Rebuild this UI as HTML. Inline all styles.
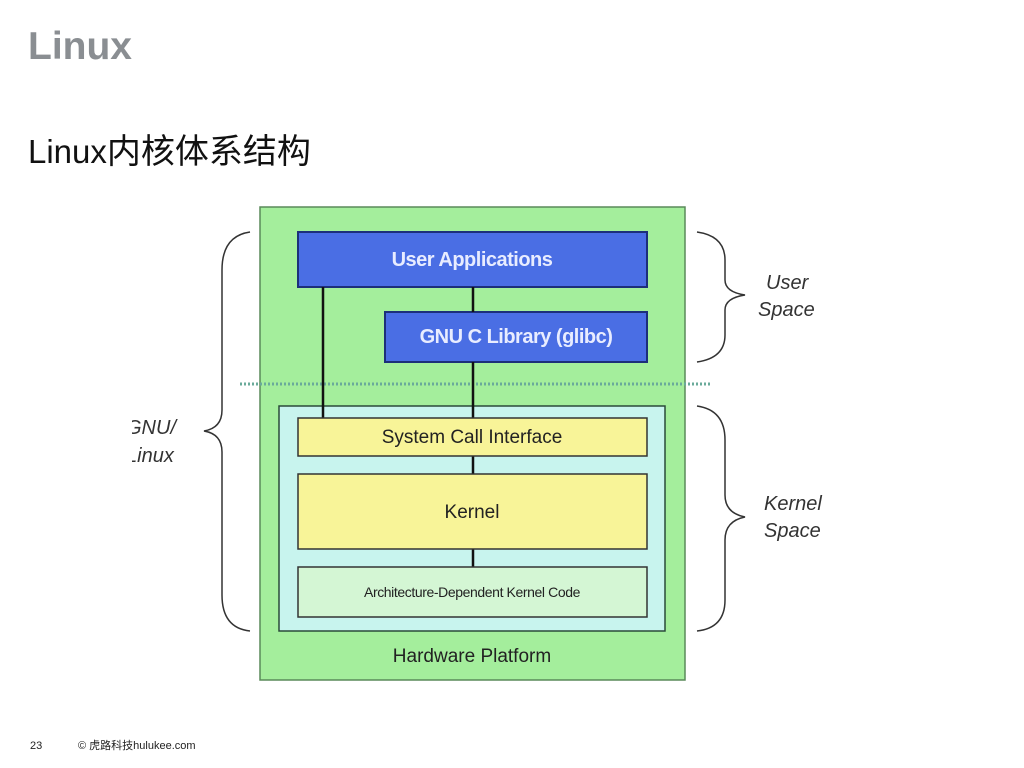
<!DOCTYPE html>
<html><head><meta charset="utf-8"><style>
html,body{margin:0;padding:0;background:#fff;}
body{width:1024px;height:768px;overflow:hidden;position:relative;font-family:"Liberation Sans","Noto Sans CJK SC",sans-serif;}
</style></head><body>
<svg width="1024" height="768" xmlns="http://www.w3.org/2000/svg" style="position:absolute;left:0;top:0">
<text x="28" y="59" font-family="Liberation Sans, sans-serif" font-weight="bold" font-size="39" fill="#8a8e92">Linux</text>
<text x="28" y="163" font-family="Liberation Sans, Noto Sans CJK SC, sans-serif" font-size="33" fill="#111">Linux<tspan font-size="34">内核体系结构</tspan></text>
<text x="30" y="749" font-family="Liberation Sans, sans-serif" font-size="11" fill="#222">23</text>
<text x="78" y="749" font-family="Liberation Sans, Noto Sans CJK SC, sans-serif" font-size="11" fill="#222">© 虎路科技hulukee.com</text>

<rect x="260" y="207" width="425" height="473" fill="#a4ee9c" stroke="#5a8a5a" stroke-width="1.5"/>
<rect x="298" y="232" width="349" height="55" fill="#4a6ee4" stroke="#1c2f7a" stroke-width="2"/>
<text x="472" y="266" text-anchor="middle" font-family="Liberation Sans, sans-serif" font-weight="bold" font-size="20" fill="#e8ecff" letter-spacing="-0.5">User Applications</text>
<rect x="385" y="312" width="262" height="50" fill="#4a6ee4" stroke="#1c2f7a" stroke-width="2"/>
<text x="516" y="343" text-anchor="middle" font-family="Liberation Sans, sans-serif" font-weight="bold" font-size="20" fill="#e8ecff" letter-spacing="-0.5">GNU C Library (glibc)</text>
<line x1="240" y1="384" x2="710" y2="384" stroke="#6aaa9a" stroke-width="3" stroke-dasharray="2,2"/>
<rect x="279" y="406" width="386" height="225" fill="#c8f4ee" stroke="#2a4a3a" stroke-width="1.5"/>
<line x1="323" y1="287" x2="323" y2="418" stroke="#111" stroke-width="2.5"/>
<line x1="473" y1="287" x2="473" y2="312" stroke="#111" stroke-width="2.5"/>
<line x1="473" y1="362" x2="473" y2="418" stroke="#111" stroke-width="2.5"/>
<line x1="473" y1="456" x2="473" y2="474" stroke="#111" stroke-width="2.5"/>
<line x1="473" y1="549" x2="473" y2="567" stroke="#111" stroke-width="2.5"/>
<rect x="298" y="418" width="349" height="38" fill="#f8f498" stroke="#333" stroke-width="1.5"/>
<text x="472" y="443" text-anchor="middle" font-family="Liberation Sans, sans-serif" font-size="19" fill="#222">System Call Interface</text>
<rect x="298" y="474" width="349" height="75" fill="#f8f498" stroke="#333" stroke-width="1.5"/>
<text x="472" y="518" text-anchor="middle" font-family="Liberation Sans, sans-serif" font-size="19" fill="#222">Kernel</text>
<rect x="298" y="567" width="349" height="50" fill="#d4f6d4" stroke="#333" stroke-width="1.5"/>
<text x="472" y="597" text-anchor="middle" font-family="Liberation Sans, sans-serif" font-size="14" fill="#222" letter-spacing="-0.4">Architecture-Dependent Kernel Code</text>
<text x="472" y="662" text-anchor="middle" font-family="Liberation Sans, sans-serif" font-size="19" fill="#222">Hardware Platform</text>

<g fill="none" stroke="#333" stroke-width="1.5">
<path d="M250 232 Q222 236 222 270 L222 410 Q222 428 204 431 Q222 434 222 452 L222 595 Q222 628 250 631"/>
<path d="M697 232 Q725 236 725 260 L725 280 Q725 292 745 295 Q725 298 725 310 L725 335 Q725 358 697 362"/>
<path d="M697 406 Q725 410 725 440 L725 495 Q725 513 745 517 Q725 521 725 540 L725 600 Q725 628 697 631"/>
</g>
<g font-family="Liberation Sans, sans-serif" font-style="italic" font-size="20" fill="#333">
<text x="766" y="289">User</text>
<text x="758" y="316">Space</text>
<text x="764" y="510">Kernel</text>
<text x="764" y="537">Space</text>
<text x="126" y="434">GNU/</text>
<text x="126" y="462">Linux</text>
</g>
<rect x="100" y="410" width="32" height="60" fill="#fff"/>
</svg>
</body></html>
